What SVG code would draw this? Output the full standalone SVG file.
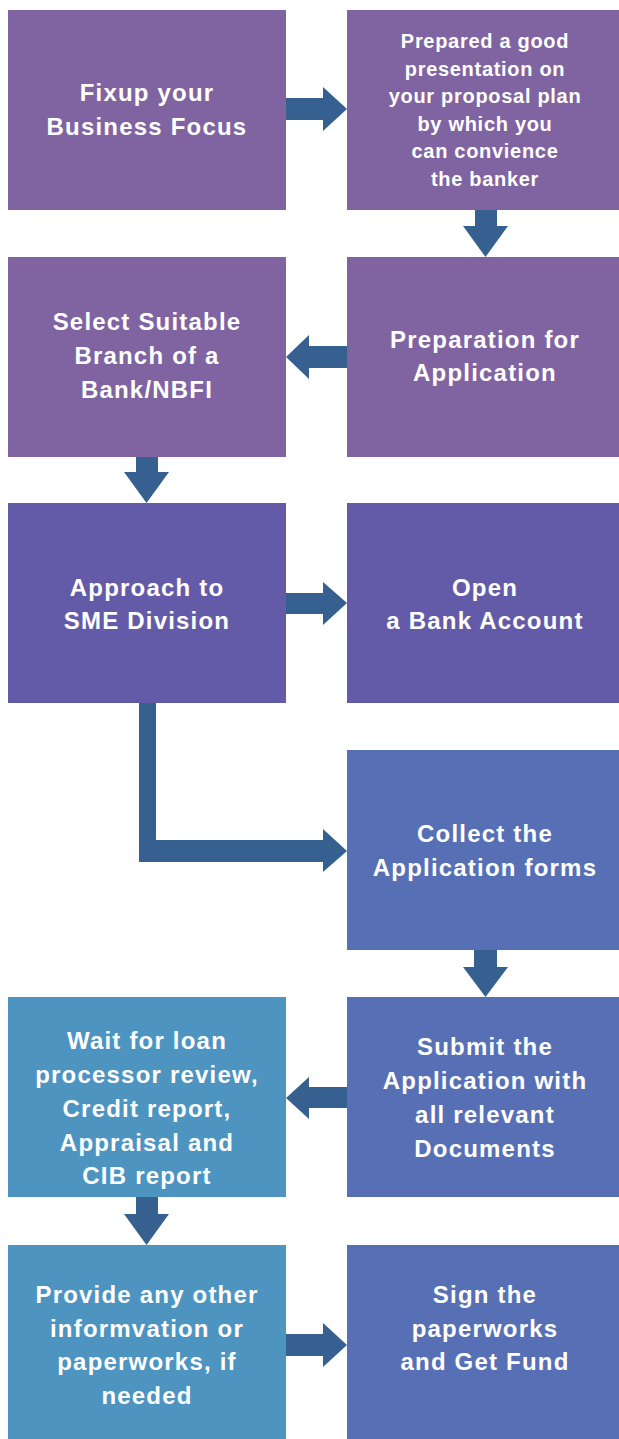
<svg xmlns="http://www.w3.org/2000/svg" width="619" height="1439" viewBox="0 0 619 1439">
<style>
.p1{fill:#8064A2}
.p2{fill:#645BA8}
.b1{fill:#5770B5}
.b2{fill:#4D94C1}
.t{fill:#ffffff;font-family:"Liberation Sans",Arial,sans-serif;font-weight:bold;font-size:24px;letter-spacing:1.2px;text-anchor:middle}
.s{font-size:20px;letter-spacing:0.7px}
.a{fill:#356090}
</style>
<rect width="619" height="1439" fill="#ffffff"/>
<g id="connectors">
<polygon class="a" points="286,98 323,98 323,87 347,109 323,131 323,120 286,120"/>
<polygon class="a" points="475,210 497,210 497,226 508,226 485.5,257 463,226 475,226"/>
<polygon class="a" points="347,346 309,346 309,335 286,357 309,379 309,368 347,368"/>
<polygon class="a" points="136,457 158,457 158,472 169,472 146.5,503 124,472 136,472"/>
<polygon class="a" points="286,593 323,593 323,582 347,603 323,625 323,614 286,614"/>
<polygon class="a" points="139,703 156,703 156,840 323,840 323,829 347,851 323,872 323,862 139,862"/>
<polygon class="a" points="474,950 497,950 497,967 508,967 485.5,997 463,967 474,967"/>
<polygon class="a" points="347,1087 309,1087 309,1077 286,1098 309,1119 309,1108 347,1108"/>
<polygon class="a" points="136,1197 158,1197 158,1214 169,1214 146.5,1245 124,1214 136,1214"/>
<polygon class="a" points="286,1334 323,1334 323,1323 347,1345 323,1367 323,1356 286,1356"/>
</g>
<g id="n1"><rect class="p1" x="8" y="10" width="278" height="200"/>
<text class="t" x="147" y="101">Fixup your</text><text class="t" x="147" y="135">Business Focus</text></g>
<g id="n2"><rect class="p1" x="347" y="10" width="272" height="200"/>
<text class="t s" x="485" y="48">Prepared a good</text>
<text class="t s" x="485" y="76">presentation on</text>
<text class="t s" x="485" y="103">your proposal plan</text>
<text class="t s" x="485" y="131">by which you</text>
<text class="t s" x="485" y="158">can convience</text>
<text class="t s" x="485" y="186">the banker</text></g>
<g id="n3"><rect class="p1" x="8" y="257" width="278" height="200"/>
<text class="t" x="147" y="330">Select Suitable</text>
<text class="t" x="147" y="364">Branch of a</text>
<text class="t" x="147" y="398">Bank/NBFI</text></g>
<g id="n4"><rect class="p1" x="347" y="257" width="272" height="200"/>
<text class="t" x="485" y="348">Preparation for</text>
<text class="t" x="485" y="381">Application</text></g>
<g id="n5"><rect class="p2" x="8" y="503" width="278" height="200"/>
<text class="t" x="147" y="596">Approach to</text>
<text class="t" x="147" y="629">SME Division</text></g>
<g id="n6"><rect class="p2" x="347" y="503" width="272" height="200"/>
<text class="t" x="485" y="596">Open</text>
<text class="t" x="485" y="629">a Bank Account</text></g>
<g id="n7"><rect class="b1" x="347" y="750" width="272" height="200"/>
<text class="t" x="485" y="842">Collect the</text>
<text class="t" x="485" y="876">Application forms</text></g>
<g id="n8"><rect class="b1" x="347" y="997" width="272" height="200"/>
<text class="t" x="485" y="1055">Submit the</text>
<text class="t" x="485" y="1089">Application with</text>
<text class="t" x="485" y="1123">all relevant</text>
<text class="t" x="485" y="1157">Documents</text></g>
<g id="n9"><rect class="b2" x="8" y="997" width="278" height="200"/>
<text class="t" x="147" y="1049">Wait for loan</text>
<text class="t" x="147" y="1083">processor review,</text>
<text class="t" x="147" y="1117">Credit report,</text>
<text class="t" x="147" y="1151">Appraisal and</text>
<text class="t" x="147" y="1184">CIB report</text></g>
<g id="n10"><rect class="b2" x="8" y="1245" width="278" height="194"/>
<text class="t" x="147" y="1303">Provide any other</text>
<text class="t" x="147" y="1337">informvation or</text>
<text class="t" x="147" y="1370">paperworks, if</text>
<text class="t" x="147" y="1404">needed</text></g>
<g id="n11"><rect class="b1" x="347" y="1245" width="272" height="194"/>
<text class="t" x="485" y="1303">Sign the</text>
<text class="t" x="485" y="1337">paperworks</text>
<text class="t" x="485" y="1370">and Get Fund</text></g>
</svg>
